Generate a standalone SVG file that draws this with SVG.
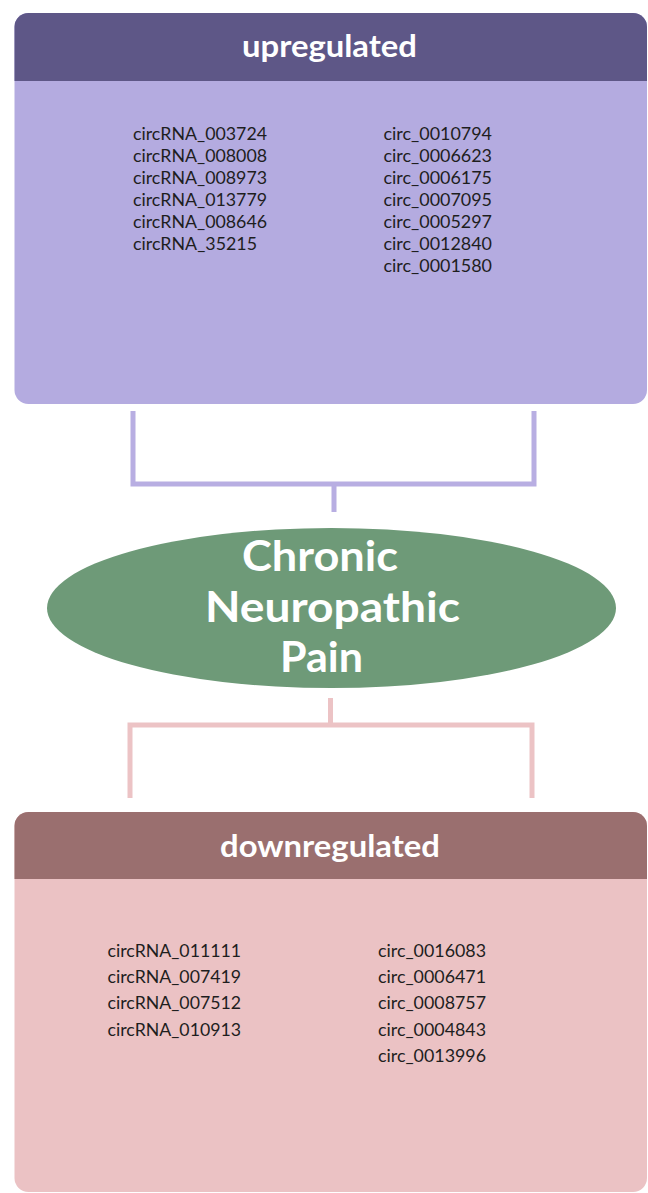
<svg xmlns="http://www.w3.org/2000/svg" width="648" height="1193" viewBox="0 0 648 1193">
<style>
.title{font-family:Lato,"Noto Sans","Liberation Sans",sans-serif;font-weight:bold;font-size:30px;fill:#ffffff}
.item{font-family:Lato,"Noto Sans","Liberation Sans",sans-serif;font-size:17px;fill:#1e1e1e}
.big{font-family:Lato,"Noto Sans","Liberation Sans",sans-serif;font-weight:bold;font-size:42px;fill:#ffffff}
.up{stroke:#b8aee2;stroke-width:5;fill:none}
.down{stroke:#ecc3c5;stroke-width:5;fill:none}
</style>
<rect width="648" height="1193" fill="#ffffff"/>
<g id="upregulated">
<rect x="14.5" y="13" width="632.5" height="391" rx="14" fill="#b4abe0"/>
<path d="M14.5 81 V27 a14 14 0 0 1 14 -14 H633 a14 14 0 0 1 14 14 V81 Z" fill="#5e5787"/>
<text class="title" x="242" y="57" textLength="175" lengthAdjust="spacingAndGlyphs">upregulated</text>
<g class="item">
<text x="133" y="140" textLength="134" lengthAdjust="spacingAndGlyphs">circRNA_003724</text>
<text x="133" y="162" textLength="134" lengthAdjust="spacingAndGlyphs">circRNA_008008</text>
<text x="133" y="184" textLength="134" lengthAdjust="spacingAndGlyphs">circRNA_008973</text>
<text x="133" y="206" textLength="134" lengthAdjust="spacingAndGlyphs">circRNA_013779</text>
<text x="133" y="228" textLength="134" lengthAdjust="spacingAndGlyphs">circRNA_008646</text>
<text x="133" y="250" textLength="124" lengthAdjust="spacingAndGlyphs">circRNA_35215</text>
<text x="383.5" y="140" textLength="108.5" lengthAdjust="spacingAndGlyphs">circ_0010794</text>
<text x="383.5" y="162" textLength="108.5" lengthAdjust="spacingAndGlyphs">circ_0006623</text>
<text x="383.5" y="184" textLength="108.5" lengthAdjust="spacingAndGlyphs">circ_0006175</text>
<text x="383.5" y="206" textLength="108.5" lengthAdjust="spacingAndGlyphs">circ_0007095</text>
<text x="383.5" y="228" textLength="108.5" lengthAdjust="spacingAndGlyphs">circ_0005297</text>
<text x="383.5" y="250" textLength="108.5" lengthAdjust="spacingAndGlyphs">circ_0012840</text>
<text x="383.5" y="272" textLength="108.5" lengthAdjust="spacingAndGlyphs">circ_0001580</text>
</g>
</g>
<g id="connectors">
<path class="up" d="M133 411 V484 H534 V411 M334 484 V512"/>
<path class="down" d="M330.5 698 V725 M130 798 V725 H532 V798"/>
</g>
<g id="chronic-neuropathic-pain">
<ellipse cx="331.5" cy="608" rx="284.5" ry="80" fill="#6e9a78"/>
<text class="big" x="242" y="571" textLength="156" lengthAdjust="spacingAndGlyphs">Chronic</text>
<text class="big" x="205" y="622" textLength="255" lengthAdjust="spacingAndGlyphs">Neuropathic</text>
<text class="big" x="280" y="672" textLength="83" lengthAdjust="spacingAndGlyphs">Pain</text>
</g>
<g id="downregulated">
<rect x="14.5" y="812" width="632.5" height="380" rx="14" fill="#ebc2c4"/>
<path d="M14.5 879 V826 a14 14 0 0 1 14 -14 H633 a14 14 0 0 1 14 14 V879 Z" fill="#9a6f6f"/>
<text class="title" x="220" y="857" textLength="220" lengthAdjust="spacingAndGlyphs">downregulated</text>
<g class="item">
<text x="107.5" y="957" textLength="133.5" lengthAdjust="spacingAndGlyphs">circRNA_011111</text>
<text x="107.5" y="983" textLength="133.5" lengthAdjust="spacingAndGlyphs">circRNA_007419</text>
<text x="107.5" y="1009" textLength="133.5" lengthAdjust="spacingAndGlyphs">circRNA_007512</text>
<text x="107.5" y="1035.5" textLength="133.5" lengthAdjust="spacingAndGlyphs">circRNA_010913</text>
<text x="378" y="957" textLength="108" lengthAdjust="spacingAndGlyphs">circ_0016083</text>
<text x="378" y="983" textLength="108" lengthAdjust="spacingAndGlyphs">circ_0006471</text>
<text x="378" y="1009" textLength="108" lengthAdjust="spacingAndGlyphs">circ_0008757</text>
<text x="378" y="1035.5" textLength="108" lengthAdjust="spacingAndGlyphs">circ_0004843</text>
<text x="378" y="1061.5" textLength="108" lengthAdjust="spacingAndGlyphs">circ_0013996</text>
</g>
</g>
</svg>
